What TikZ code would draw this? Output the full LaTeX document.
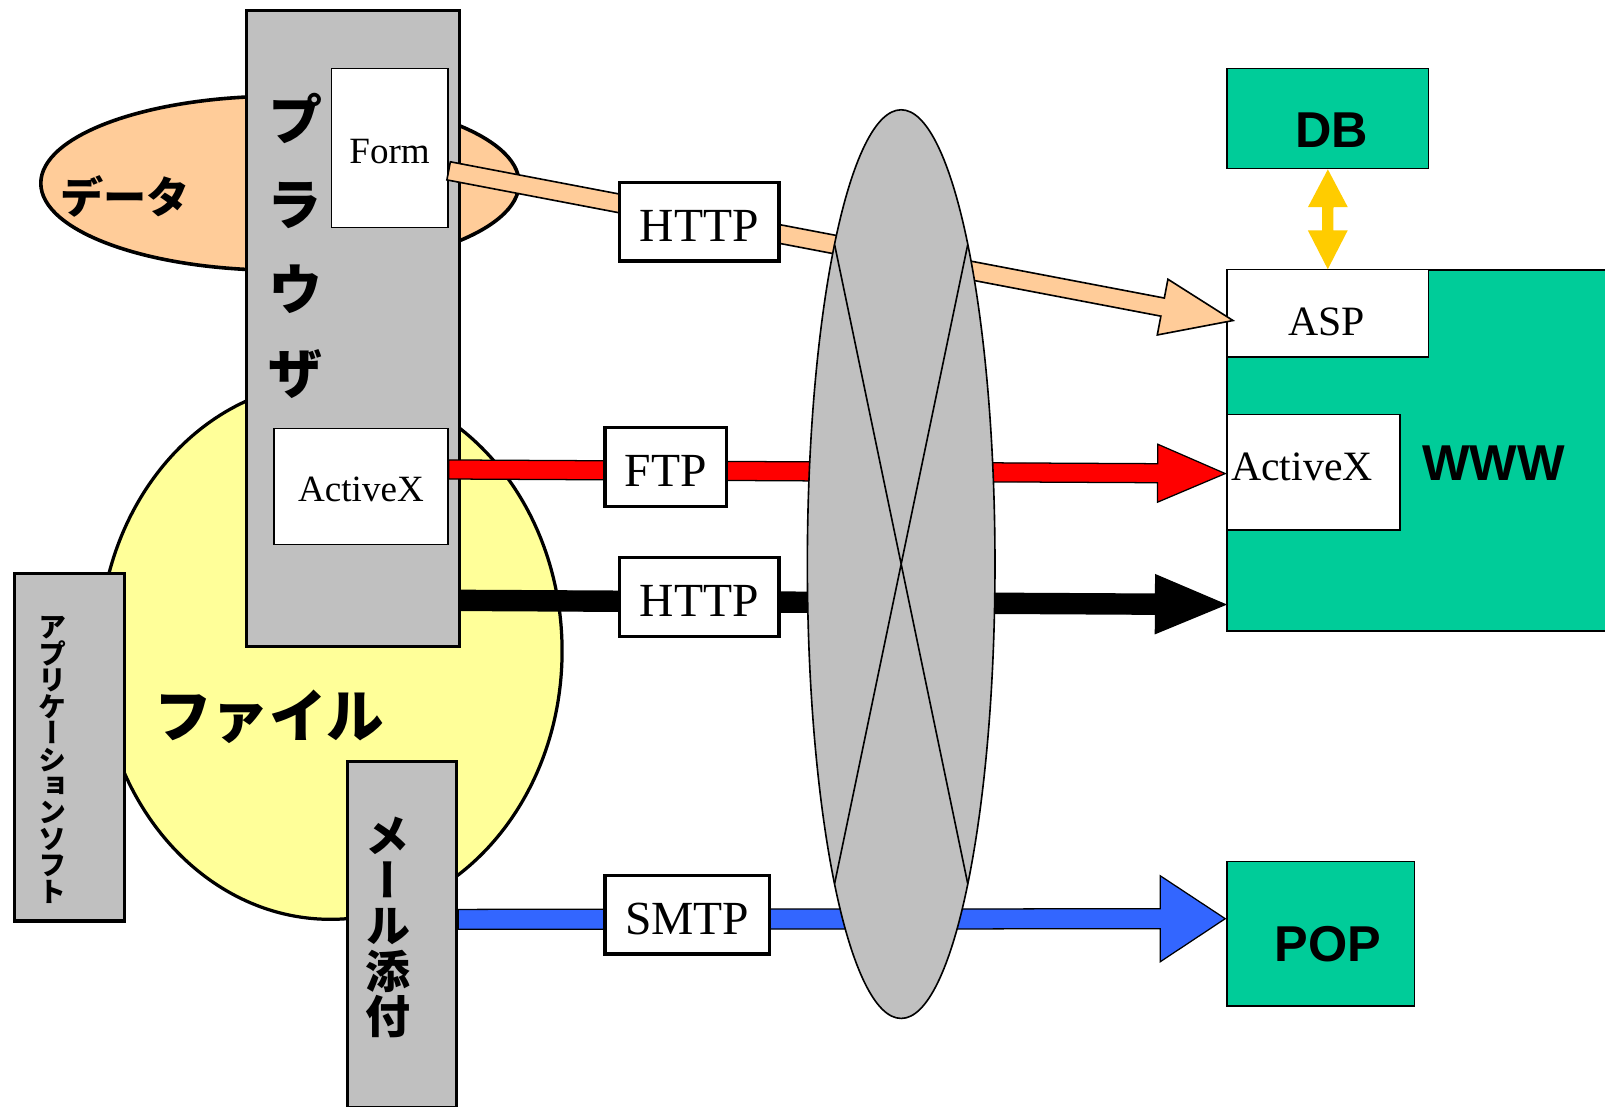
\documentclass[tikz,border=0pt]{standalone}
\usepackage{fontspec}
\usepackage{graphicx}
\setmainfont{Liberation Serif}
\newfontfamily\jpfont{Noto Sans CJK JP}
\newfontfamily\jptate{Noto Sans CJK JP}[RawFeature=+vert]
\newfontfamily\lblfont{Liberation Sans}
\usetikzlibrary{shapes.geometric,calc}
\definecolor{datacol}{HTML}{FFCC99}
\definecolor{filecol}{HTML}{FFFF99}
\definecolor{boxgray}{HTML}{C0C0C0}
\definecolor{srvgreen}{HTML}{00CC99}
\definecolor{mailblue}{HTML}{3366FF}
\definecolor{dbgold}{HTML}{FFCC00}
\newcommand{\tightlines}{\lineskiplimit=-20pt\lineskip=0pt}
\newcommand{\low}[2]{\raisebox{-#1}[\height][\depth]{#2}}
% fat arrow: [style]{start}{tip}{half shaft}{half head}{head length}
\newcommand{\fatarrow}[6][]{%
  \coordinate (fahead) at ($(#3)!#6!(#2)$);
  \draw[#1] ($(#2)!#4!90:(#3)$) -- ($(fahead)!#4!90:(#3)$) -- ($(fahead)!#5!90:(#3)$) -- (#3)
    -- ($(fahead)!#5!-90:(#3)$) -- ($(fahead)!#4!-90:(#3)$) -- ($(#2)!#4!-90:(#3)$) -- cycle;}
\tikzset{
  graybox/.style={draw, line width=0.9pt, fill=boxgray, inner sep=0pt, anchor=north west},
  paper/.style={draw, line width=0.35pt, fill=white, inner sep=0pt, anchor=north west},
  srvbox/.style={draw, line width=0.4pt, fill=srvgreen, inner sep=0pt, anchor=north west},
  proto/.style={draw, line width=0.9pt, fill=white, inner sep=0pt, minimum height=0.77cm,
    font=\fontsize{13.2}{15}\selectfont},
  blob/.style={ellipse, draw, inner sep=0pt},
  jpbold/.style={inner sep=0pt, font=\jpfont\bfseries\fontsize{#1}{#1}\selectfont},
  tate/.style 2 args={inner sep=0pt, align=center,
    font=\jptate\bfseries\fontsize{#1}{#2}\selectfont\tightlines},
  srvlbl/.style={inner sep=0pt, font=\lblfont\bfseries\fontsize{14}{16}\selectfont},
}
\begin{document}
\begin{tikzpicture}[x=0.01cm, y=-0.01cm, line join=miter]
  \useasboundingbox (0,0) rectangle (1568,1081);
  \fill[white] (0,0) rectangle (1568,1081);
  \node[blob, line width=1pt, fill=datacol, minimum width=4.67cm, minimum height=1.70cm] (data) at (273.5,179) {};
  \node[blob, line width=0.9pt, fill=filecol, minimum width=4.52cm, minimum height=5.24cm] (file) at (323,636) {};
  \node[graybox, minimum width=2.08cm, minimum height=6.21cm] (browser) at (239,9) {};
  \node[graybox, minimum width=1.073cm, minimum height=3.39cm] (app) at (12.7,559) {};
  \node[graybox, minimum width=1.065cm, minimum height=3.375cm] (mail) at (338,742.5) {};
  \node[paper, minimum width=1.14cm, minimum height=1.555cm, font=\fontsize{10.3}{12}\selectfont] (form) at (323,66) {\low{0.04cm}{Form}};
  \node[paper, minimum width=1.70cm, minimum height=1.13cm, font=\fontsize{10.3}{12}\selectfont] (axa) at (267,418) {\low{0.03cm}{ActiveX}};
  \node[jpbold=12] (datatx) at (122,192) {データ};
  \node[jpbold=16] (filetx) at (263,700) {ファイル};
  \node[tate={15.5}{23.5}] (brtx) at (289,240.5) {プ\\ラ\\ウ\\ザ};
  \node[tate={7.8}{7.34}] (apptx) at (51,742.5) {ア\\プ\\リ\\ケ\\ー\\シ\\ョ\\ン\\ソ\\フ\\ト};
  \node[tate={12.5}{12.52}] (mailtx) at (379,906) {メ\\ー\\ル\\添\\付};
  \node[srvbox, minimum width=3.77cm, minimum height=3.525cm] (www) at (1198,263) {};
  \node[paper, minimum width=1.97cm, minimum height=0.85cm] (asp) at (1198,263) {};
  \node[paper, minimum width=1.69cm, minimum height=1.13cm] (axb) at (1198,404) {};
  \node[srvbox, minimum width=1.97cm, minimum height=0.98cm] (db) at (1198,66) {};
  \node[srvbox, minimum width=1.83cm, minimum height=1.41cm] (pop) at (1198,841) {};
  \node[inner sep=0pt, font=\fontsize{11.6}{14}\selectfont] (asptx) at (1296,314) {ASP};
  \node[inner sep=0pt, font=\fontsize{11.6}{14}\selectfont] (axbtx) at (1272,456) {ActiveX};
  \node[srvlbl] (dbtx) at (1301,127) {DB};
  \node[srvlbl] (wwwtx) at (1459,452) {WWW};
  \node[srvlbl] (poptx) at (1297,922) {POP};
  \fill[dbgold] (db.south) -- ($(db.south)+(-19.5,37)$) -- ($(db.south)+(-5.5,37)$) -- ($(asp.north)+(-5.5,-38)$)
    -- ($(asp.north)+(-19.5,-38)$) -- (asp.north) -- ($(asp.north)+(19.5,-38)$) -- ($(asp.north)+(5.5,-38)$)
    -- ($(db.south)+(5.5,37)$) -- ($(db.south)+(19.5,37)$) -- cycle;
  \coordinate (pkS) at ($(form.east)+(0,22.5)$);
  \coordinate (pkE) at ($(asp.west)+(6.6,7)$);
  \coordinate (rdS) at ($(axa.east)+(0,-16.5)$);
  \coordinate (rdE) at ($(axb.west)+(-1,1.5)$);
  \coordinate (bkS) at ($(browser.south east)+(0,-47)$);
  \coordinate (bkE) at ($(www.south west)+(-1,-26.5)$);
  \coordinate (blS) at ($(mail.east)+(0,-14.75)$);
  \coordinate (blE) at ($(pop.west)+(-1,-14.75)$);
  \fatarrow[draw, line width=0.45pt, fill=datacol]{pkS}{pkE}{0.09cm}{0.277cm}{0.70cm}
  \fatarrow[draw, line width=0.35pt, fill=red]{rdS}{rdE}{0.093cm}{0.283cm}{0.66cm}
  \fatarrow[draw, fill=black]{bkS}{bkE}{0.0975cm}{0.285cm}{0.68cm}
  \fatarrow[draw, line width=0.35pt, fill=mailblue]{blS}{blE}{0.0975cm}{0.42cm}{0.635cm}
  \foreach \n/\t/\x/\y/\w in {httpa/HTTP/683/216.5/1.56, ftp/FTP/650.5/456/1.19, httpb/HTTP/683/583/1.56, smtp/SMTP/671.5/893.5/1.61}
    \node[proto, minimum width=\w cm] (\n) at (\x,\y) {\low{0.045cm}{\t}};
  \node[blob, line width=0.45pt, fill=boxgray, minimum width=1.832cm, minimum height=8.872cm] (net) at (880.4,551.1) {};
  \draw[line width=0.45pt] ($(net.center)+(-65,-312)$) -- ($(net.center)+(65,312)$)
    ($(net.center)+(65,-312)$) -- ($(net.center)+(-65,312)$);
\end{tikzpicture}
\end{document}
